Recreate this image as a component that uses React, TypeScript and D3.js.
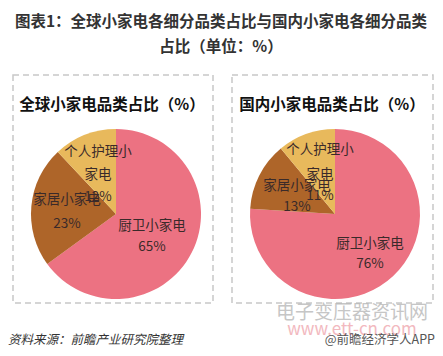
import React from "react";
import * as d3 from "d3";

const categories = ["厨卫小家电", "家居小家电", "个人护理小家电"];
const globalValues = [65, 23, 12];
const domesticValues = [76, 13, 11];
const panelTitles = ["全球小家电品类占比（%）", "国内小家电品类占比（%）"];
const colors = ["#EC7282", "#AE6529", "#E8B95C"];

const W = 443;
const H = 356;

type LabelPos = { lines: [number, number][]; };

// label anchor offsets (relative to pie center) for each slice, per pie
const globalLabelOffsets: [number, number][][] = [
  [[36, 10], [36, 31]],
  [[-49, -16], [-49, 8]],
  [[-18, -64], [-18, -41], [-18, -19]],
];
const domesticLabelOffsets: [number, number][][] = [
  [[35, 28], [35, 48]],
  [[-38, -30], [-38, -9]],
  [[-15, -66], [-15, -41], [-15, -20]],
];

function labelLines(cat: string, v: number, idx: number): string[] {
  if (idx === 2) return ["个人护理小", "家电", `${v}%`];
  return [cat, `${v}%`];
}

function Pie({ cx, cy, values, offsets }: { cx: number; cy: number; values: number[]; offsets: [number, number][][] }) {
  const r = 85;
  const pie = d3.pie<number>().sort(null).value((d) => d);
  const arc = d3.arc<d3.PieArcDatum<number>>().innerRadius(0).outerRadius(r);
  const arcs = pie(values);
  return (
    <g transform={`translate(${cx},${cy})`}>
      {arcs.map((a, i) => (
        <path key={i} d={arc(a) || ""} fill={colors[i]} />
      ))}
      {arcs.map((a, i) =>
        labelLines(categories[i], values[i], i).map((t, j) => (
          <text
            key={`${i}-${j}`}
            x={offsets[i][j][0]}
            y={offsets[i][j][1]}
            textAnchor="middle"
            dominantBaseline="central"
            fontSize={13.5}
            fill="#3a2a2a"
          >
            {t}
          </text>
        ))
      )}
    </g>
  );
}

export default function App() {
  const font = "'Noto Sans CJK SC', 'Noto Sans', sans-serif";
  return (
    <svg width={W} height={H} style={{ position: "absolute", left: 0, top: 0, background: "#fff" }} fontFamily={font}>
      <rect width={W} height={H} fill="#fff" />
      <text x={221} y={20} textAnchor="middle" dominantBaseline="central" fontSize={15.5} fontWeight="bold" fill="#333">
        图表1：全球小家电各细分品类占比与国内小家电各细分品类
      </text>
      <text x={221} y={45} textAnchor="middle" dominantBaseline="central" fontSize={15.5} fontWeight="bold" fill="#333">
        占比（单位：%）
      </text>

      <rect x={13} y={75} width={200} height={228} fill="none" stroke="#c8c8c8" strokeWidth={1.5} strokeDasharray="6 4" />
      <rect x={232} y={75} width={201} height={228} fill="none" stroke="#c8c8c8" strokeWidth={1.5} strokeDasharray="6 4" />

      <text x={112} y={103} textAnchor="middle" dominantBaseline="central" fontSize={15.5} fontWeight="bold" fill="#111">
        {panelTitles[0]}
      </text>
      <text x={332} y={103} textAnchor="middle" dominantBaseline="central" fontSize={15.5} fontWeight="bold" fill="#111">
        {panelTitles[1]}
      </text>

      <Pie cx={116} cy={214} values={globalValues} offsets={globalLabelOffsets} />
      <Pie cx={335} cy={214} values={domesticValues} offsets={domesticLabelOffsets} />

      <text x={352} y={310} textAnchor="middle" dominantBaseline="central" fontSize={19} fill="#b8b8b8" opacity={0.8}>
        电子变压器资讯网
      </text>
      <text x={352} y={327} textAnchor="middle" dominantBaseline="central" fontSize={17} fill="#f0a8b0" opacity={0.8}>
        www.ett-cn.com
      </text>

      <text x={8} y={338} dominantBaseline="central" fontSize={12.5} fontStyle="italic" fill="#333">
        资料来源：前瞻产业研究院整理
      </text>
      <text x={435} y={338} textAnchor="end" dominantBaseline="central" fontSize={12.5} fill="#555">
        @前瞻经济学人APP
      </text>
    </svg>
  );
}
